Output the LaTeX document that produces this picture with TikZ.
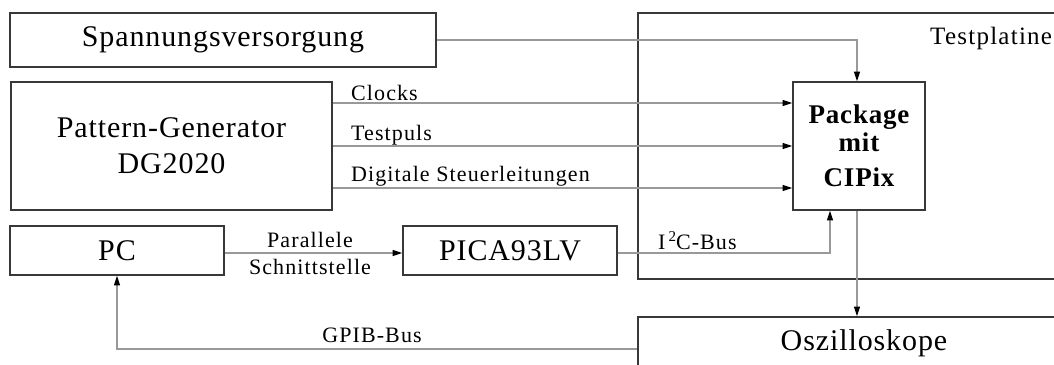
\documentclass[tikz,border=0pt]{standalone}
\usepackage{fontspec}
\setmainfont{Liberation Serif}[LetterSpace=3]
\newfontfamily\lblfont{Liberation Serif}[LetterSpace=5]
\usetikzlibrary{arrows.meta}
\begin{document}
\begin{tikzpicture}[x=1pt,y=-1pt,
  box/.style={draw=black!78,line width=1.7pt,inner sep=0pt,rectangle,align=center,
    font=\fontsize{30}{36}\selectfont},
  lbl/.style={inner sep=0pt,font=\lblfont\fontsize{22}{25}\selectfont},
  conn/.style={draw=black!40,line width=1.1pt},
  arr/.style={conn,-{Triangle[length=9.5pt,width=6pt,color=black]}}]
\useasboundingbox (0,0) rectangle (1054,364);
\fill[white] (0,0) rectangle (1054,364);
\clip (0,0) rectangle (1054,364);
% boxes
\node[box,minimum width=426pt,minimum height=54pt] (sv) at (223,40) {Spannungsversorgung};
\node[box,minimum width=321pt,minimum height=128pt] (pg) at (171.5,146) {Pattern-Generator\\DG2020};
\node[box,minimum width=214pt,minimum height=49pt] (pc) at (117,250.5) {PC};
\node[box,minimum width=214pt,minimum height=49pt] (pica) at (510,250.5) {PICA93LV};
\node[box,minimum width=462pt,minimum height=266pt] (tp) at (869,146) {};
\node[box,minimum width=462pt,minimum height=103pt] (osz) at (869,368.5) {};
\node[box,minimum width=132pt,minimum height=128pt,
  font=\fontsize{27}{28}\selectfont\bfseries] (pkg) at (859,146) {Package\\mit\\[7pt]CIPix};
% texts
\node[lbl,font=\lblfont\fontsize{25}{28}\selectfont,anchor=west] (tpl) at (930,38) {Testplatine};
\node[box,draw=none,anchor=center] (osztxt) at (864,343) {Oszilloskope};
\node[lbl,anchor=west] (lclk) at (351,93) {Clocks};
\node[lbl,anchor=west] (ltp) at (351,135) {Testpuls};
\node[lbl,anchor=west] (ldig) at (351,176) {Digitale Steuerleitungen};
\node[lbl,align=center,font=\lblfont\fontsize{22}{27}\selectfont] (lpar) at (310,253) {Parallele\\Schnittstelle};
\node[lbl,anchor=west] (li2c) at (658,241) {I\kern3pt\raisebox{8pt}{\fontsize{15}{15}\selectfont 2}C-Bus};
\node[lbl] (lgpib) at (372,335) {GPIB-Bus};
% connectors
\draw[arr] (sv.east) -| ([xshift=-2pt]pkg.north);
\draw[arr] ([yshift=43pt]pg.east) -- ([yshift=43pt]pkg.west);
\draw[arr] (pg.east) -- (pkg.west);
\draw[arr] ([yshift=-42pt]pg.east) -- ([yshift=-42pt]pkg.west);
\draw[arr] ([yshift=-2.5pt]pc.east) -- ([yshift=-2.5pt]pica.west);
\draw[arr] ([yshift=-2.5pt]pica.east) -| ([xshift=-29pt]pkg.south);
\draw[arr] ([xshift=-2pt]pkg.south) -- ([xshift=-2pt]pkg.south |- osz.north);
\draw[arr] ([yshift=19.5pt]osz.west) -| (pc.south);
\end{tikzpicture}
\end{document}
